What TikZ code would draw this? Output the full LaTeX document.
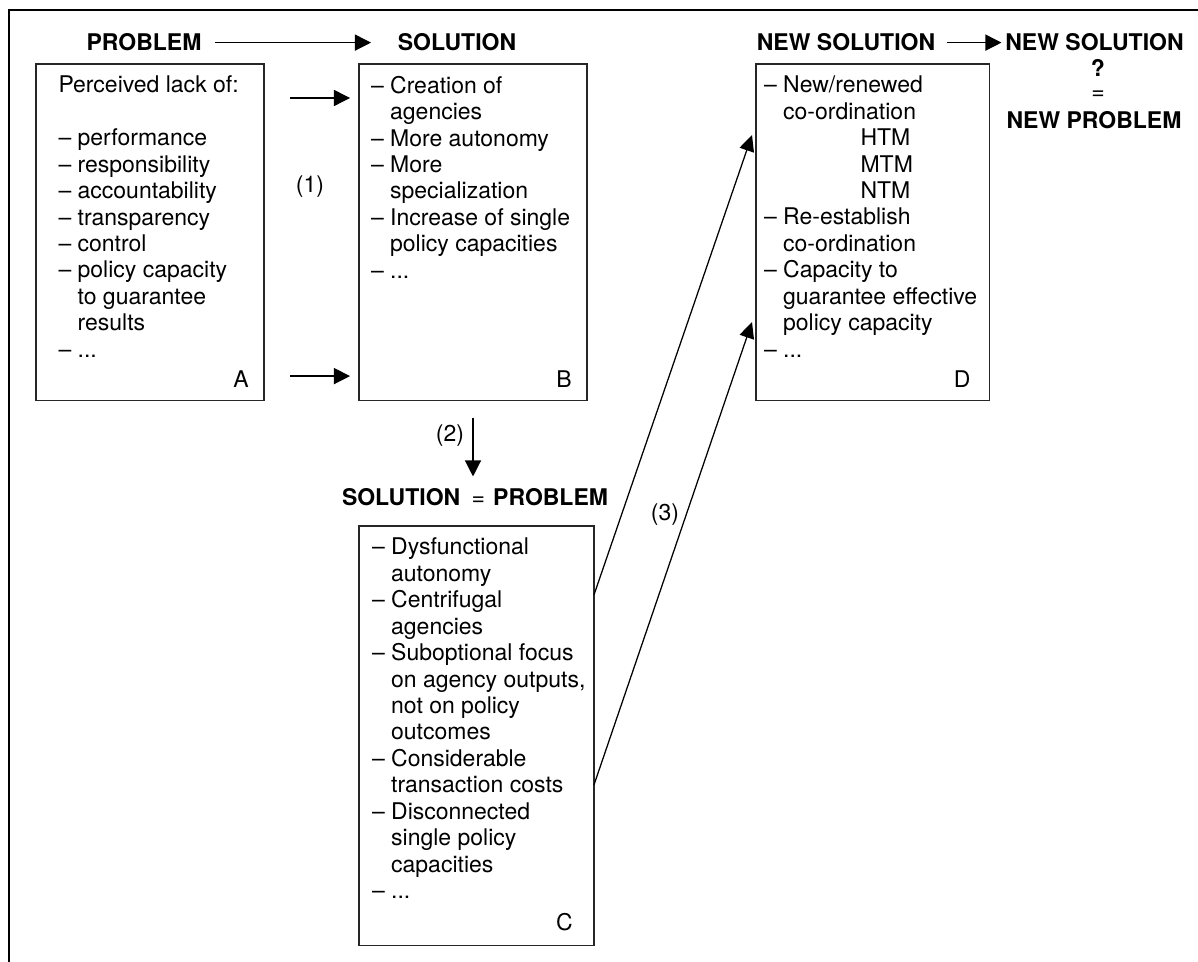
\documentclass[tikz,border=0pt]{standalone}
\usepackage{fontspec}
\setmainfont{TeX Gyre Heros}
\usetikzlibrary{arrows.meta,calc}
\newcommand\myind{\phantom{– }}
\begin{document}
\begin{tikzpicture}[x=0.435pt,y=-0.435pt,
  box/.style={draw=black!85, line width=0.5pt, anchor=north west, inner sep=0pt, outer sep=0pt},
  body/.style={anchor=north west, inner sep=0pt, outer sep=0pt, align=left, font=\fontsize{10}{11.5}\selectfont},
  head/.style={anchor=base, inner sep=0pt, outer sep=0pt, font=\fontsize{10}{12}\selectfont\bfseries},
  lbl/.style={anchor=base, inner sep=0pt, outer sep=0pt, font=\fontsize{10}{12}\selectfont},
  arr/.style={line width=0.55pt, -{Triangle[length=7pt,width=7pt]}},
  link/.style={line width=0.55pt, -{Triangle[length=7pt,width=6.5pt]}}
]
\useasboundingbox (0,0) rectangle (1198,962);
% outer frame (top and left only)
\draw[line width=1pt] (9,975) -- (9,10) -- (1210,10);

% headings
\node[head] (prob) at (144,51) {PROBLEM};
\node[head] (sol) at (457,51) {SOLUTION};
\node[head] (ns1) at (846,51) {NEW SOLUTION};
\node[head] (ns2) at (1094.5,51) {NEW SOLUTION};
\node[head] (q) at (1098,77) {?};
\node[lbl, anchor=center] (eq) at (1098,95) {=};
\node[head] (np) at (1094,129) {NEW PROBLEM};
\node[head] (sp) at (475,506) {SOLUTION\hspace{5pt}{\mdseries =}\hspace{3.5pt}PROBLEM};

% boxes
\node[box, minimum width=99.2pt, minimum height=146.2pt] (A) at (36,64) {};
\node[box, minimum width=99.2pt, minimum height=146.2pt] (B) at (359,64) {};
\node[box, minimum width=101.4pt, minimum height=146.2pt] (D) at (756,64) {};
\node[box, minimum width=102.2pt, minimum height=182.3pt] (C) at (359,526) {};

% box texts
\node[body] (At) at (58.5,76) {Perceived lack of:\\ \mbox{}\\
– performance\\
– responsibility\\
– accountability\\
– transparency\\
– control\\
– policy capacity\\
\myind to guarantee\\
\myind results\\
– ...};
\node[body] (Bt) at (371,76) {– Creation of\\
\myind agencies\\
– More autonomy\\
– More\\
\myind specialization\\
– Increase of single\\
\myind policy capacities\\
– ...};
\node[body] (Dt) at (764,76) {– New/renewed\\
\myind co-ordination\\
\hspace*{42pt}HTM\\
\hspace*{42pt}MTM\\
\hspace*{42pt}NTM\\
– Re-establish\\
\myind co-ordination\\
– Capacity to\\
\myind guarantee effective\\
\myind policy capacity\\
– ...};
\node[body] (Ct) at (372,538) {– Dysfunctional\\
\myind autonomy\\
– Centrifugal\\
\myind agencies\\
– Suboptional focus\\
\myind on agency outputs,\\
\myind not on policy\\
\myind outcomes\\
– Considerable\\
\myind transaction costs\\
– Disconnected\\
\myind single policy\\
\myind capacities\\
– ...};

% corner letters
\node[lbl] (la) at ($(A.south east)+(-23,-13)$) {A};
\node[lbl] (lb) at ($(B.south east)+(-23,-13)$) {B};
\node[lbl] (ld) at ($(D.south east)+(-27,-13)$) {D};
\node[lbl] (lc) at ($(C.south east)+(-29.5,-15)$) {C};

% step labels
\node[lbl, anchor=center] (l1) at (310,187) {(1)};
\node[lbl, anchor=center] (l2) at (450,436) {(2)};
\node[lbl, anchor=center] (l3) at (665,515) {(3)};

% connectors
\draw[arr, shorten <=5.7pt, shorten >=11.7pt] (prob.east) -- (sol.west);
\draw[arr, shorten <=5.2pt, shorten >=1.7pt] (ns1.east) -- (ns2.west);
\draw[arr, shorten <=11.3pt, shorten >=3.9pt] ($(A.north east)+(0,34)$) -- ($(B.north west)+(0,34)$);
\draw[arr, shorten <=11.3pt, shorten >=3.9pt] ($(A.south east)+(0,-24)$) -- ($(B.south west)+(0,-24)$);
\draw[arr] ($(B.south west)+(114,18)$) -- ($(sp.north)+(-2,-12.5)$);
\draw[link] ($(C.north east)+(0,69)$) -- ($(D.north west)+(-4,71)$);
\draw[link] ($(C.north east)+(0,259)$) -- ($(D.north west)+(-4,258)$);
\end{tikzpicture}
\end{document}
